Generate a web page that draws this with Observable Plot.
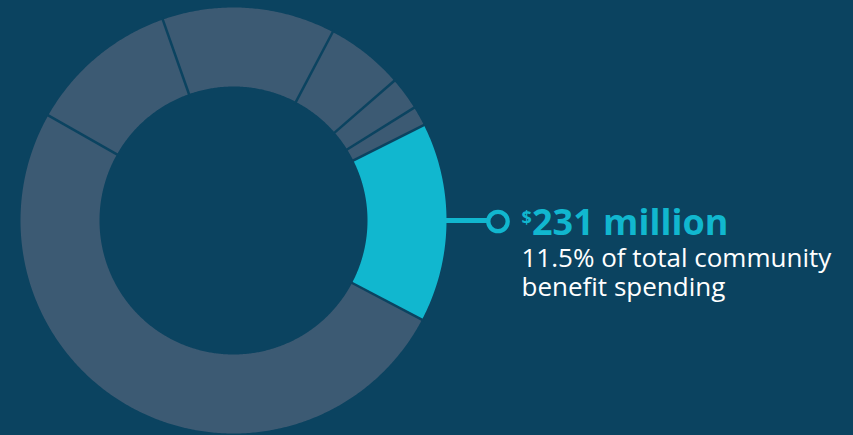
<!DOCTYPE html>
<html>
<head>
<meta charset="utf-8">
<script src="https://cdn.jsdelivr.net/npm/d3@7"></script>
<script src="https://cdn.jsdelivr.net/npm/@observablehq/plot@0.6"></script>
<style>
  html, body { margin: 0; padding: 0; background: #0b4360; overflow: hidden; }
  #chart svg { display: block; }
</style>
</head>
<body>
<div id="chart"></div>
<script>
// ---- data (shares of total, clockwise) ----
const categories = ["Segment A", "Segment B", "Segment C", "Segment D", "Highlighted", "Segment E", "Segment F"];
const shares = [13.1, 5.9, 2.5, 1.5, 15.1, 50.5, 11.4];
const highlighted = "Highlighted";
const headline = ["$", "231 million"];
const subLines = ["11.5% of total community", "benefit spending"];

// ---- layout ----
const W = 853, H = 435;
const cx = 233, cy = 220;          // donut centre in pixels
const R = 213, r0 = 134;           // outer / inner radius
const startDeg = -19.4;            // angle of first boundary (clockwise from top)
const bg = "#0b4360", grey = "#3c5a73", cyan = "#11b7cf";

const total = d3.sum(shares);
let acc = startDeg;
const slices = categories.map((c, i) => {
  const a0 = acc, a1 = acc + shares[i] / total * 360;
  acc = a1;
  return {category: c, a0, a1};
});

const rad = d => d * Math.PI / 180;
const pts = [];
for (const s of slices) {
  const n = Math.max(4, Math.ceil((s.a1 - s.a0) / 0.5));
  for (let k = 0; k <= n; k++) {
    const a = rad(s.a0 + (s.a1 - s.a0) * k / n);
    pts.push({category: s.category, x: R * Math.sin(a), y: R * Math.cos(a)});
  }
  for (let k = n; k >= 0; k--) {
    const a = rad(s.a0 + (s.a1 - s.a0) * k / n);
    pts.push({category: s.category, x: r0 * Math.sin(a), y: r0 * Math.cos(a)});
  }
}
const seps = slices.map(s => {
  const a = rad(s.a0);
  return {x1: (r0 - 2) * Math.sin(a), y1: (r0 - 2) * Math.cos(a), x2: (R + 2) * Math.sin(a), y2: (R + 2) * Math.cos(a)};
});

const hl = slices.find(s => s.category === highlighted);
const mid = rad((hl.a0 + hl.a1) / 2);
const dotX = 264.5, dotR = 9.7;

const chart = Plot.plot({
  width: W, height: H,
  margin: 0,
  style: {background: bg, fontFamily: "'Open Sans', 'Noto Sans', sans-serif"},
  x: {domain: [-cx, W - cx], range: [0, W], axis: null},
  y: {domain: [-(H - cy), cy], range: [H, 0], axis: null},
  marks: [
    Plot.line(pts, {x: "x", y: "y", z: "category", curve: "linear",
      fill: d => d.category === highlighted ? cyan : grey, stroke: "none"}),
    Plot.link(seps, {x1: "x1", y1: "y1", x2: "x2", y2: "y2", stroke: bg, strokeWidth: 2.5}),
    Plot.link([0], {x1: R * Math.sin(mid) - 2, y1: 0, x2: dotX - dotR, y2: 0, stroke: cyan, strokeWidth: 5}),
    Plot.dot([0], {x: dotX, y: -1, r: dotR, stroke: cyan, strokeWidth: 4.3, fill: bg}),
    Plot.text([headline[0]], {x: 288, y: -3.5, text: d => d, textAnchor: "start", lineAnchor: "bottom",
      fill: cyan, fontSize: 18, fontWeight: 700}),
    Plot.text([headline[1]], {x: 298.5, y: -14, text: d => d, textAnchor: "start", lineAnchor: "bottom",
      fill: cyan, fontSize: 36, fontWeight: 700}),
    Plot.text([subLines.join("\n")], {x: 288, y: -75, text: d => d, textAnchor: "start",
      lineAnchor: "bottom", lineHeight: 29 / 26, fill: "#ffffff", fontSize: 26})
  ]
});
document.getElementById("chart").appendChild(chart);
</script>
</body>
</html>
